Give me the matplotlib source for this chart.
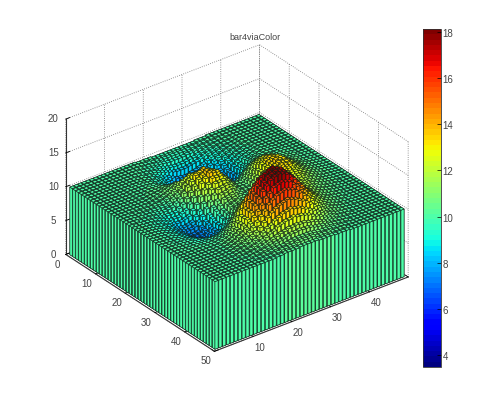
import numpy as np
import matplotlib
matplotlib.use('Agg')
import matplotlib.pyplot as plt
from matplotlib.colors import Normalize
from matplotlib.cm import ScalarMappable

plt.rcParams['font.family'] = ['Liberation Sans', 'DejaVu Sans']

# bar heights, in tenths, one row per y position
heights = np.array([
    [100,100,100,100,100,100,100,100,100,100, 100,100,100,100,100,100,100,99,99,99, 99,98,98,98,98,98,98,98,98,98, 98,98,99,99,99,100,100,100,100,100, 100,100,100,100,100,100,100,100,100],
    [100,100,100,100,100,100,100,100,100,100, 100,100,100,100,100,100,100,99,98,98, 97,97,96,96,96,96,96,96,96,96, 97,97,98,98,99,99,100,100,100,100, 100,100,100,100,100,100,100,100,100],
    [100,100,100,100,100,100,100,100,100,100, 100,100,100,100,100,100,99,98,98,97, 96,95,94,93,93,93,93,93,94,94, 95,96,97,97,98,98,99,99,100,100, 100,100,100,100,100,100,100,100,100],
    [100,100,100,100,100,100,100,100,100,100, 100,100,100,100,100,99,98,97,96,95, 94,92,90,89,88,88,88,89,90,90, 92,93,95,96,97,98,98,99,99,100, 100,100,100,100,100,100,100,100,100],
    [100,100,100,100,100,100,100,100,100,100, 100,100,100,100,99,98,98,96,95,93, 91,89,87,85,84,84,84,85,86,87, 89,91,93,94,96,97,98,98,99,100, 100,100,100,100,100,100,100,100,100],
    [100,100,100,100,100,100,100,100,100,100, 100,100,100,99,99,97,97,94,92,89, 87,84,81,78,77,76,76,78,79,81, 84,87,90,92,94,96,97,98,99,100, 100,100,100,100,100,100,100,100,100],
    [100,100,100,100,100,100,100,100,100,100, 100,100,100,99,99,97,96,93,90,86, 83,79,75,72,70,69,69,71,73,76, 80,83,87,90,93,95,97,98,99,100, 100,100,100,100,100,100,100,100,100],
    [100,100,100,100,100,100,100,100,100,100, 100,100,100,99,99,96,95,91,88,83, 78,73,68,64,61,60,60,62,65,69, 73,78,83,87,91,93,96,97,98,99, 100,100,100,100,100,100,100,100,100],
    [100,100,100,100,100,100,100,100,101,101, 101,101,101,100,99,96,94,90,86,80, 74,67,61,56,52,51,51,54,57,62, 67,73,79,84,89,92,95,96,98,98, 99,100,100,100,100,100,100,100,100],
    [100,100,100,100,100,100,100,100,101,101, 101,101,101,100,99,96,94,90,85,78, 72,64,57,51,46,44,44,47,50,56, 62,69,76,81,87,91,94,96,98,98, 100,100,100,100,100,100,100,100,100],
    [100,100,100,100,100,100,100,100,101,101, 101,101,102,101,100,97,95,90,85,77, 70,61,53,46,40,38,37,40,44,51, 58,65,73,79,86,90,94,96,98,99, 100,100,100,100,100,100,100,100,100],
    [100,100,100,100,100,100,100,100,101,101, 101,102,102,102,102,100,98,94,89,81, 74,65,56,49,42,39,37,40,44,50, 58,65,74,80,86,90,95,96,98,100, 101,100,100,100,100,100,100,100,100],
    [100,100,100,100,100,100,100,100,101,101, 102,102,103,103,104,103,102,97,93,85, 78,69,60,52,44,40,37,40,43,50, 57,65,74,80,87,91,96,97,99,100, 101,101,101,100,100,100,100,100,100],
    [100,100,100,100,100,100,100,100,100,101, 102,102,103,104,106,106,106,104,101,94, 88,80,70,62,54,50,46,48,50,56, 62,70,78,84,90,94,98,100,101,101, 102,101,101,100,100,100,100,100,100],
    [100,100,100,100,100,100,100,100,100,101, 102,103,104,106,108,110,111,110,109,104, 99,90,81,72,64,59,54,55,56,62, 68,75,83,88,94,97,101,102,103,102, 102,101,101,101,101,100,100,100,100],
    [100,100,100,100,100,100,100,100,99,100, 101,102,104,106,109,112,115,116,117,114, 110,103,96,86,78,72,67,67,67,72, 77,83,90,94,100,102,105,105,106,104, 104,102,102,102,101,100,100,100,100],
    [100,100,100,99,99,99,99,99,99,100, 100,101,103,106,110,114,119,122,125,124, 122,116,110,101,93,86,80,79,78,82, 86,91,97,101,106,107,109,108,108,106, 105,104,103,102,101,100,100,100,100],
    [100,100,100,99,99,98,98,98,98,98, 98,98,100,104,108,112,118,123,128,128, 129,124,120,111,104,96,90,88,87,90, 94,99,104,108,112,112,114,112,111,108, 106,105,104,102,102,100,100,100,100],
    [100,100,100,99,99,98,98,97,96,95, 95,96,97,101,105,111,118,124,131,133, 136,132,129,121,114,107,100,98,96,99, 102,107,112,115,118,118,118,116,114,111, 108,106,104,103,102,101,101,100,100],
    [100,100,100,98,98,98,97,96,94,92, 92,92,92,96,100,106,113,120,128,132, 136,133,131,124,117,110,104,102,100,103, 106,112,117,120,123,122,122,119,116,113, 110,107,105,104,102,101,101,100,100],
    [100,99,99,98,98,97,96,94,92,90, 88,88,88,91,94,101,108,116,125,130, 136,134,133,126,120,113,107,105,104,107, 111,116,122,125,128,127,126,122,119,115, 111,108,106,104,102,101,101,100,100],
    [100,99,99,98,98,96,95,92,90,88, 85,84,84,86,88,94,101,110,118,124, 131,130,130,124,118,112,106,105,104,108, 113,118,125,128,131,130,128,124,120,116, 112,109,106,104,102,102,101,100,100],
    [100,99,99,98,97,95,94,91,89,85, 82,80,79,80,82,88,94,103,112,119, 126,126,126,121,116,110,105,105,105,110, 115,121,128,131,134,132,131,126,122,117, 113,110,107,105,103,102,101,100,100],
    [100,99,99,98,97,95,94,90,88,84, 80,78,76,76,78,83,89,98,106,114, 120,121,122,118,113,108,104,104,104,110, 116,122,128,132,135,133,132,127,123,118, 114,110,107,105,103,102,101,100,100],
    [100,99,99,98,97,95,93,90,87,83, 79,75,72,72,73,78,84,92,101,108, 115,116,118,114,110,106,102,103,104,110, 116,122,129,132,136,134,133,128,124,119, 114,110,107,105,103,102,101,100,100],
    [100,99,99,98,97,95,93,90,87,83, 79,75,71,71,72,76,82,89,98,104, 111,112,114,111,108,104,101,102,104,110, 116,122,128,132,135,133,132,127,123,118, 114,110,107,105,103,102,101,100,100],
    [100,99,99,98,97,95,93,90,87,83, 79,75,71,70,70,74,79,86,94,100, 107,109,111,108,105,102,100,101,103,109, 115,121,128,131,134,132,131,126,122,117, 113,110,107,105,103,102,101,100,100],
    [100,99,99,98,98,96,94,90,88,84, 80,76,73,72,72,76,80,86,93,99, 106,108,110,107,105,102,100,102,104,108, 114,120,126,128,131,130,128,124,120,116, 112,109,106,104,102,102,101,100,100],
    [100,99,99,98,98,96,94,91,89,85, 82,78,75,74,74,77,80,86,92,98, 104,106,108,106,105,103,101,102,104,108, 113,118,124,126,128,127,126,122,118,114, 111,108,105,103,102,101,101,100,100],
    [100,99,99,98,98,96,95,92,90,87, 84,82,79,78,78,81,84,90,96,102, 107,110,112,110,110,108,106,106,108,111, 115,118,123,124,126,124,123,120,116,112, 110,107,104,103,102,101,101,100,100],
    [100,99,99,98,98,97,96,94,92,89, 87,85,83,82,82,85,88,94,100,105, 110,113,116,115,114,112,111,111,112,114, 117,119,122,122,123,121,120,117,114,111, 108,106,104,103,102,101,101,100,100],
    [100,100,100,98,98,98,97,95,94,92, 90,88,87,87,88,92,95,101,108,113, 119,122,126,126,126,124,122,121,120,121, 122,122,123,122,122,120,118,115,112,110, 107,105,104,102,102,100,100,100,100],
    [100,100,100,99,99,98,98,96,95,94, 93,92,91,92,94,98,102,108,115,121, 128,132,136,136,137,135,133,131,129,128, 127,125,124,122,121,118,116,113,110,108, 106,104,103,102,101,100,100,100,100],
    [100,100,100,99,99,98,98,97,96,96, 96,96,96,98,100,104,110,116,124,131, 138,144,148,150,150,148,146,143,140,136, 134,130,127,124,121,118,115,112,109,107, 105,104,102,102,101,100,100,100,100],
    [100,100,100,99,99,99,99,98,98,98, 98,99,100,103,106,111,117,125,133,141, 149,155,161,163,164,162,160,155,150,145, 140,135,130,125,121,117,114,111,108,106, 104,103,102,101,101,100,100,100,100],
    [100,100,100,100,100,100,100,99,99,99, 100,101,102,106,110,115,122,130,138,147, 156,162,168,170,172,170,167,162,156,150, 144,138,131,126,121,116,113,110,107,105, 104,102,102,100,100,100,100,100,100],
    [100,100,100,100,100,100,100,100,100,100, 101,103,105,109,113,119,126,135,144,153, 162,169,175,178,180,177,174,168,162,155, 147,140,132,126,121,116,112,109,106,104, 103,102,101,100,100,100,100,100,100],
    [100,100,100,100,100,100,100,100,100,100, 102,104,106,110,114,120,126,135,144,152, 161,168,174,176,178,176,173,167,161,154, 146,138,131,125,120,115,111,108,106,104, 102,102,100,100,100,100,100,100,100],
    [100,100,100,100,100,100,100,100,101,101, 102,104,106,110,114,120,127,135,143,151, 160,166,172,175,177,175,172,166,160,152, 145,137,130,124,118,114,110,107,105,103, 102,101,101,100,100,100,100,100,100],
    [100,100,100,100,100,100,100,100,101,101, 102,104,106,110,113,118,124,131,138,145, 153,158,164,166,168,166,164,158,153,146, 140,132,126,120,116,112,108,106,104,102, 102,101,101,100,100,100,100,100,100],
    [100,100,100,100,100,100,100,100,101,101, 102,104,106,109,112,116,121,127,133,139, 146,151,155,157,159,157,155,150,146,140, 134,128,122,117,113,110,107,105,103,102, 101,101,101,100,100,100,100,100,100],
    [100,100,100,100,100,100,100,100,101,101, 102,104,105,107,110,113,117,122,127,132, 137,141,144,146,148,146,144,140,137,132, 128,122,118,114,110,108,106,104,102,102, 101,100,100,100,100,100,100,100,100],
    [100,100,100,100,100,100,100,100,101,101, 102,103,104,105,107,110,113,117,121,124, 128,131,134,135,137,135,134,131,128,124, 121,117,114,111,108,106,104,103,102,101, 101,100,100,100,100,100,100,100,100],
    [100,100,100,100,100,100,100,100,100,100, 102,102,103,104,106,108,110,113,116,118, 122,124,126,126,128,126,126,124,122,118, 116,113,110,108,106,104,103,102,102,100, 100,100,100,100,100,100,100,100,100],
    [100,100,100,100,100,100,100,100,100,100, 101,101,102,103,104,105,107,109,111,113, 115,116,118,118,119,118,118,116,115,113, 111,109,107,105,104,103,102,101,101,100, 100,100,100,100,100,100,100,100,100],
    [100,100,100,100,100,100,100,100,100,100, 100,100,102,102,103,104,105,106,108,109, 110,112,113,113,114,113,113,112,110,109, 108,106,105,104,103,102,102,100,100,100, 100,100,100,100,100,100,100,100,100],
    [100,100,100,100,100,100,100,100,100,100, 100,100,101,101,102,102,103,104,105,105, 106,107,108,108,108,108,108,107,106,105, 105,104,103,102,102,101,101,100,100,100, 100,100,100,100,100,100,100,100,100],
    [100,100,100,100,100,100,100,100,100,100, 100,100,100,100,101,101,102,102,104,104, 104,104,106,106,106,106,106,104,104,104, 104,102,102,102,102,100,100,100,100,100, 100,100,100,100,100,100,100,100,100],
    [100,100,100,100,100,100,100,100,100,100, 100,100,100,100,100,100,101,101,102,102, 102,102,103,103,103,103,103,102,102,102, 102,101,101,101,101,100,100,100,100,100, 100,100,100,100,100,100,100,100,100],
]) / 10

xticks = [0, 10, 20, 30, 40, 50]
xticklabels = ['', '10', '20', '30', '40', '']
yticks = [0, 10, 20, 30, 40, 50]
zticks = [0, 5, 10, 15, 20]
cbar_ticks = [4, 6, 8, 10, 12, 14, 16, 18]
cmin, cmax = 3.48, 18.13

cmap = plt.get_cmap('jet', 64)
norm = Normalize(cmin, cmax)

fig = plt.figure(figsize=(5, 4.14), dpi=100)
ax = fig.add_axes([48/500, 26/414, 368/500, 368/414], projection='3d',
                  proj_type='ortho', computed_zorder=False)
ax.set_box_aspect((1, 1, 0.64))
ax.view_init(elev=30, azim=-127.5)

# back corner first, each bar is its own collection so they stack properly
order = 0
for col in range(48, -1, -1):
    for row in range(49):
        h = heights[row, col]
        ax.bar3d(col + 1 - 0.4, row + 1 - 0.4, 0, 0.8, 0.8, h,
                 color=cmap(norm(h)), shade=False, edgecolor='#102018',
                 linewidth=0.4, zorder=order + 10)
        order += 1

ax.set_xlim(0, 50)
ax.set_ylim(50, 0)
ax.set_zlim(0, 20)
ax.set_xticks(xticks, xticklabels)
ax.set_yticks(yticks)
ax.set_zticks(zticks)
ax.tick_params(labelsize=7, labelcolor='#444444', pad=-2)
ax.tick_params(axis='z', pad=-3)

for axis in (ax.xaxis, ax.yaxis, ax.zaxis):
    axis.set_pane_color((1, 1, 1, 0))
    axis.pane.set_edgecolor('none')
    axis.line.set_color('#333333')
    axis.line.set_linewidth(0.8)
    axis._axinfo['grid'].update(color='#777777', linestyle=':', linewidth=0.6)
    axis._axinfo['tick'].update(inward_factor=0, outward_factor=0.25)
    axis._axinfo['tick']['linewidth'] = {True: 0.6, False: 0.6}
    for lab in axis.get_ticklabels():
        lab.set_va('center')

fig.text(255/500, 1 - 37/414, 'bar4viaColor', fontsize=6.5, color='#444444',
         ha='center', va='center')

cax = fig.add_axes([423/500, 1 - 368/414, 18/500, 338/414])
cb = fig.colorbar(ScalarMappable(norm=norm, cmap=cmap), cax=cax)
cb.set_ticks(cbar_ticks)
cb.ax.tick_params(direction='in', length=3, width=0.5, labelsize=7,
                  labelcolor='#444444', pad=1)
cb.outline.set_linewidth(0.6)
cb.outline.set_edgecolor('#333333')

fig.savefig('out.png', dpi=100)
